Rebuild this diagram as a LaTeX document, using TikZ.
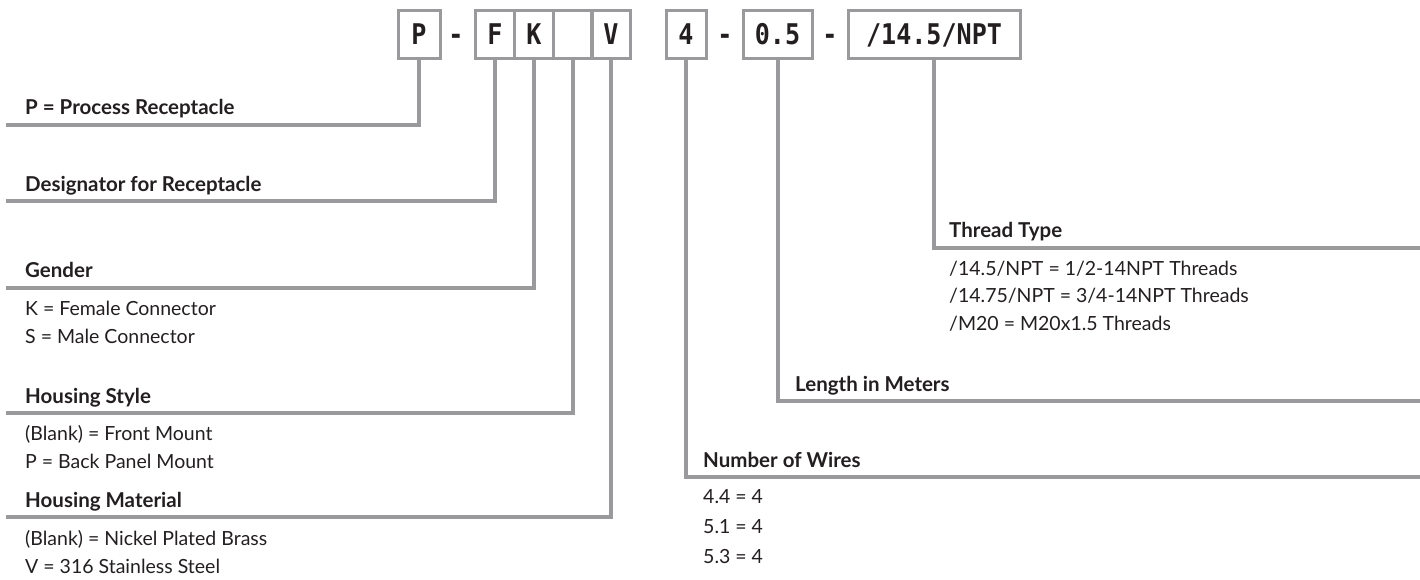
\documentclass[tikz,border=0pt]{standalone}
\usepackage{fontspec}
\setmainfont{Lato}
\newfontfamily\boxfont[FakeStretch=0.88]{DejaVu Sans Mono}
\usepackage{xcolor}
\definecolor{linegray}{HTML}{9A9A9D}
\definecolor{inkdark}{HTML}{231F20}

\begin{document}
\begin{tikzpicture}[x=1pt, y=-1pt,
  cbox/.style={draw=linegray, line width=3pt, minimum height=48pt, inner sep=0pt,
    text height=21pt, text depth=0pt, text=inkdark, font=\boxfont\bfseries\fontsize{28.5}{30}\selectfont},
  sep/.style={inner sep=0pt, text height=21pt, text depth=0pt, text=inkdark,
    font=\boxfont\bfseries\fontsize{28.5}{30}\selectfont},
  conn/.style={draw=linegray, line width=4pt},
  head/.style={anchor=base west, inner sep=0pt, text=inkdark, font=\fontsize{20.5}{24}\selectfont\bfseries},
  item/.style={anchor=base west, inner sep=0pt, text=inkdark, font=\fontsize{19.5}{24}\selectfont}]
  \useasboundingbox (0,0) rectangle (1420,580);

  % Part number boxes
  \node[cbox, minimum width=42pt] (bP) at (419,34.5) {P};
  \node[sep] (d1) at (456,34.5) {-};
  \node[cbox, minimum width=39pt] (bF) at (495,34.5) {F};
  \node[cbox, minimum width=39pt] (bK) at (534,34.5) {K};
  \node[cbox, minimum width=39pt] (bB) at (572.5,34.5) {};
  \node[cbox, minimum width=39pt] (bV) at (611,34.5) {V};
  \node[cbox, minimum width=40pt] (b4) at (686,34.5) {4};
  \node[sep] (d2) at (725,34.5) {-};
  \node[cbox, minimum width=69pt] (b05) at (777.5,34.5) {0.5};
  \node[sep] (d3) at (830,34.5) {-};
  \node[cbox, minimum width=172pt] (bT) at (934,34.5) {/14.5/NPT};

  % Line ends
  \coordinate (eP) at (6,125);
  \coordinate (eF) at (6,201);
  \coordinate (eK) at (6,288);
  \coordinate (eB) at (6,413);
  \coordinate (eV) at (6,517);
  \coordinate (e4) at (1420,477);
  \coordinate (e05) at (1420,401);
  \coordinate (eT) at (1420,248);

  % Left side: P, F, K, blank, V
  \draw[conn] (bP.south) |- (eP);
  \node[head] (tP) at (25,115) {P = Process Receptacle};

  \draw[conn] (bF.south) |- (eF);
  \node[head] (tF) at (25,191) {Designator for Receptacle};

  \draw[conn] (bK.south) |- (eK);
  \node[head] (tK) at (25,277) {Gender};
  \node[item] (iK1) at (25,315) {K = Female Connector};
  \node[item] (iK2) at (25,343) {S = Male Connector};

  \draw[conn] (bB.south) |- (eB);
  \node[head] (tB) at (25,403) {Housing Style};
  \node[item] (iB1) at (25,440) {(Blank) = Front Mount};
  \node[item] (iB2) at (25,468) {P = Back Panel Mount};

  \draw[conn] (bV.south) |- (eV);
  \node[head] (tV) at (25,507) {Housing Material};
  \node[item] (iV1) at (25,545) {(Blank) = Nickel Plated Brass};
  \node[item] (iV2) at (25,573) {V = 316 Stainless Steel};

  % Right side: 4, 0.5, thread
  \draw[conn] (b4.south) |- (e4);
  \node[head] (t4) at (703,467) {Number of Wires};
  \node[item] (i41) at (703,503) {4.4 = 4};
  \node[item] (i42) at (703,533) {5.1 = 4};
  \node[item] (i43) at (703,563) {5.3 = 4};

  \draw[conn] (b05.south) |- (e05);
  \node[head] (t05) at (795,391) {Length in Meters};

  \draw[conn] (bT.south) |- (eT);
  \node[head] (tT) at (949,237) {Thread Type};
  \node[item] (iT1) at (949,275) {/14.5/NPT = 1/2-14NPT Threads};
  \node[item] (iT2) at (949,302) {/14.75/NPT = 3/4-14NPT Threads};
  \node[item] (iT3) at (949,330) {/M20 = M20x1.5 Threads};
\end{tikzpicture}
\end{document}
